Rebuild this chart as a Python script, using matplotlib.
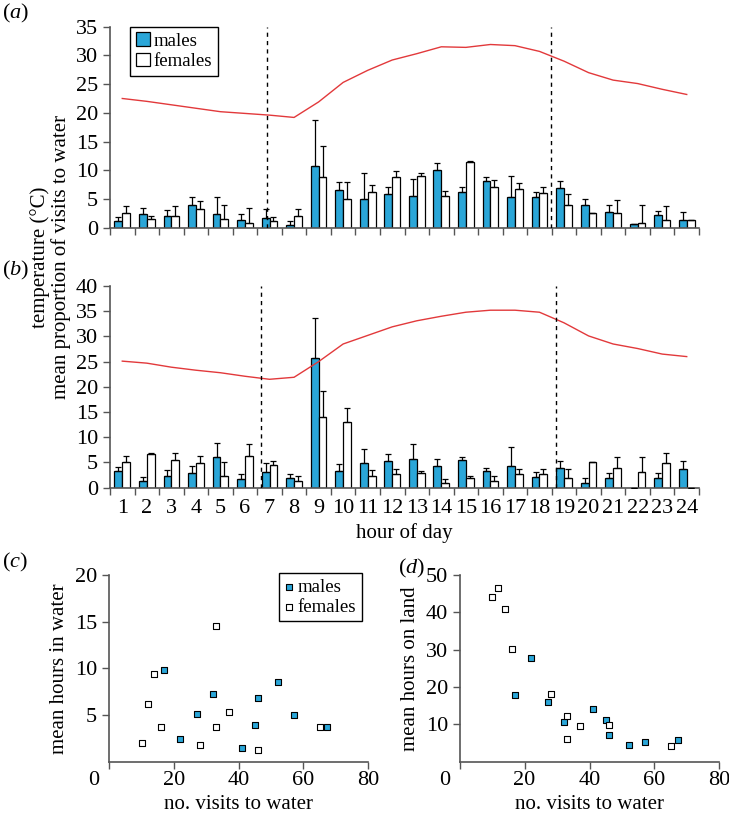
import matplotlib as mpl
mpl.use("Agg")
from matplotlib import pyplot as plt
import numpy as np

mpl.rcParams["font.family"] = ["Liberation Serif", "DejaVu Serif"]
mpl.rcParams["mathtext.fontset"] = "custom"
mpl.rcParams["mathtext.rm"] = "Liberation Serif"
mpl.rcParams["mathtext.it"] = "Liberation Serif:italic"
mpl.rcParams["font.size"] = 15

# hours of day
hours = np.arange(1, 25)

# (a) mean proportion of visits to water, with upper error ends
a_males = [1.1, 2.3, 2.0, 3.9, 2.3, 1.4, 1.7, 0.5, 10.8, 6.6, 5.0, 5.8,
           5.6, 10.1, 6.3, 8.1, 5.4, 5.3, 7.0, 4.0, 2.8, 0.6, 2.2, 1.3]
a_males_err = [1.8, 3.4, 3.0, 5.3, 5.3, 2.4, 3.25, 1.2, 18.8, 8.0, 9.6, 7.1,
               8.4, 11.2, 7.1, 8.8, 9.0, 6.3, 8.2, 5.0, 3.9, 0.6, 2.9, 2.8]
a_females = [2.5, 1.6, 2.1, 3.2, 1.6, 0.9, 1.2, 2.0, 8.9, 5.0, 6.2, 8.8,
             9.0, 5.6, 11.4, 7.1, 6.8, 6.1, 4.0, 2.5, 2.5, 0.8, 1.4, 1.3]
a_females_err = [3.8, 2.0, 3.7, 4.6, 3.9, 3.4, 1.9, 3.25, 14.2, 8.0, 7.4, 9.8,
                 9.5, 6.4, 11.7, 8.3, 7.7, 7.1, 5.8, 2.5, 4.8, 3.9, 3.7, 1.3]
a_temp = [22.5, 22.0, 21.4, 20.8, 20.2, 19.9, 19.6, 19.2, 21.9, 25.3, 27.4, 29.2,
          30.3, 31.5, 31.4, 31.9, 31.7, 30.7, 29.0, 27.0, 25.7, 25.1, 24.1, 23.2]
a_dash = [6.88, 18.46]

# (b)
b_males = [3.4, 1.4, 2.4, 3.0, 6.0, 1.65, 3.1, 2.0, 25.7, 3.3, 4.9, 5.3,
           5.7, 4.3, 5.4, 3.4, 4.4, 2.2, 4.0, 0.9, 1.85, 0.0, 2.0, 3.8]
b_males_err = [4.2, 2.2, 3.5, 4.4, 8.9, 2.7, 4.8, 2.7, 33.6, 4.7, 7.7, 6.7,
               8.7, 5.6, 6.1, 4.0, 8.0, 3.2, 5.2, 1.85, 3.0, 0.0, 2.9, 5.2]
b_females = [5.0, 6.7, 5.4, 4.9, 2.4, 6.3, 4.6, 1.3, 14.1, 13.0, 2.4, 2.8,
             3.0, 0.9, 2.0, 1.3, 2.8, 2.8, 1.85, 5.1, 4.0, 3.1, 4.8, 0.0]
b_females_err = [6.3, 6.9, 6.9, 6.3, 5.0, 8.7, 5.2, 2.4, 19.2, 15.8, 3.5, 3.8,
                 3.4, 1.8, 2.4, 2.4, 3.8, 3.8, 3.8, 5.1, 6.1, 6.1, 6.9, 0.0]
b_temp = [25.1, 24.7, 23.9, 23.3, 22.8, 22.1, 21.5, 21.9, 25.0, 28.5, 30.2, 31.9,
          33.1, 34.0, 34.8, 35.2, 35.2, 34.8, 32.7, 30.1, 28.5, 27.6, 26.5, 26.0]
b_dash = [6.67, 18.67]

# (c), (d) per individual
m_visits = [17.0, 21.9, 27.1, 32.0, 41.1, 45.1, 46.0, 52.1, 57.1, 67.2]
m_water = [9.8, 2.4, 5.1, 7.2, 1.5, 3.9, 6.8, 8.5, 5.0, 3.75]
m_land = [17.9, 27.7, 16.1, 10.5, 14.1, 11.1, 7.2, 4.5, 5.2, 5.8]
f_visits = [10.1, 11.9, 14.0, 16.0, 28.1, 33.1, 33.1, 37.1, 46.0, 65.2]
f_water = [2.0, 6.2, 9.4, 3.7, 1.8, 3.7, 14.5, 5.3, 1.3, 3.75]
f_land = [44.0, 46.5, 40.8, 30.3, 18.0, 6.0, 12.3, 9.5, 9.7, 4.1]

blue = "#2aa6d8"
red = "#e2393b"
spine_col = "#555555"

fig = plt.figure(figsize=(7.29, 8.16), dpi=100)
W, H = 729.0, 816.0


def px_axes(left, top, right, bottom):
    return fig.add_axes([left / W, 1 - bottom / H, (right - left) / W, (bottom - top) / H])


def style_spines(ax):
    for s in ["top", "right"]:
        ax.spines[s].set_visible(False)
    for s in ["left", "bottom"]:
        ax.spines[s].set_color(spine_col)
        ax.spines[s].set_linewidth(1.2)


def bar_panel(ax, males, males_err, females, females_err, temp, dash, ymax):
    x = hours
    ax.bar(x - 0.16, males, width=0.32, color=blue, edgecolor="black", linewidth=0.9,
           label="males", zorder=2)
    ax.bar(x + 0.16, females, width=0.32, color="white", edgecolor="black", linewidth=0.9,
           label="females", zorder=2)
    m = np.array(males)
    f = np.array(females)
    ax.errorbar(x - 0.16, m, yerr=[np.zeros(24), np.array(males_err) - m], fmt="none",
                ecolor="black", elinewidth=0.9, capsize=2, capthick=0.9, zorder=3)
    ax.errorbar(x + 0.16, f, yerr=[np.zeros(24), np.array(females_err) - f], fmt="none",
                ecolor="black", elinewidth=0.9, capsize=2, capthick=0.9, zorder=3)
    ax.plot(x, temp, color=red, linewidth=1.0, zorder=4)
    ax.vlines(dash, 0, ymax, colors="black", linestyles=(0, (3, 3)), linewidth=1.0, zorder=5)
    ax.set_xlim(0.5, 24.5)
    ax.set_ylim(0, ymax)
    ax.set_yticks(np.arange(0, ymax + 1, 5))
    ax.set_xticks(np.arange(0.5, 25, 1))
    ax.set_xticklabels([])
    ax.set_xticks(hours, minor=True)
    ax.tick_params(axis="x", which="minor", length=0)
    ax.tick_params(axis="both", which="major", length=5, width=1, color=spine_col,
                   direction="out", labelsize=16)
    style_spines(ax)


legend_kw = dict(loc="upper left", frameon=True, fancybox=False, edgecolor="black",
                 framealpha=1, borderaxespad=0, handletextpad=0.2, borderpad=0.3,
                 labelspacing=0.15, fontsize=13.5)

ax_a = px_axes(110, 26.7, 699, 227.7)
bar_panel(ax_a, a_males, a_males_err, a_females, a_females_err, a_temp, a_dash, 35)
leg = ax_a.legend(bbox_to_anchor=(0.034, 1.0), handlelength=0.75, handleheight=0.75,
                  **legend_kw)
leg.get_frame().set_linewidth(1.0)

ax_b = px_axes(110, 286, 699, 487.7)
bar_panel(ax_b, b_males, b_males_err, b_females, b_females_err, b_temp, b_dash, 40)
ax_b.set_xticklabels([str(h) for h in hours], minor=True)
ax_b.tick_params(axis="x", which="minor", labelsize=16, pad=8)
ax_b.set_xlabel("hour of day", fontsize=15, labelpad=4)

fig.text(40 / W, 1 - 257 / H, "temperature (°C)", rotation=90, ha="center", va="center",
         fontsize=15)
fig.text(61 / W, 1 - 257 / H, "mean proportion of visits to water", rotation=90,
         ha="center", va="center", fontsize=15)


def scatter_panel(ax, yvals_m, yvals_f, ymax, yticks):
    ax.scatter(m_visits, yvals_m, marker="s", s=20, c=blue, edgecolors="black",
               linewidths=0.8, label="males", zorder=3)
    ax.scatter(f_visits, yvals_f, marker="s", s=20, c="white", edgecolors="black",
               linewidths=0.8, label="females", zorder=3)
    ax.set_xlim(0, 80)
    ax.set_ylim(0, ymax)
    ax.set_xticks([0, 20, 40, 60, 80])
    ax.set_xticklabels(["", "20", "40", "60", "80"])
    ax.set_yticks(yticks)
    ax.tick_params(axis="both", length=5, width=1, color=spine_col, labelsize=16)
    ax.tick_params(axis="x", pad=2)
    # shared origin label, sits left of the spine in the tick-label row
    ax.annotate("0", xy=(0, 0), xycoords="axes fraction", xytext=(-7, -7),
                textcoords="offset points", ha="right", va="top", fontsize=16)
    ax.set_xlabel("no. visits to water", fontsize=15, labelpad=3)
    style_spines(ax)


ax_c = px_axes(109, 575, 368.3, 761.7)
scatter_panel(ax_c, m_water, f_water, 20, [5, 10, 15, 20])
ax_c.set_ylabel("mean hours in water", fontsize=15)
leg = ax_c.legend(bbox_to_anchor=(0.656, 1.01), handlelength=0.5, **legend_kw)
leg.get_frame().set_linewidth(1.0)

ax_d = px_axes(459.7, 575, 719.3, 761.7)
scatter_panel(ax_d, m_land, f_land, 50, [10, 20, 30, 40, 50])
ax_d.set_ylabel("mean hours on land", fontsize=15)

fig.text(2 / W, 1 - 13 / H, r"($\it{a}$)", ha="left", va="center", fontsize=16)
fig.text(2 / W, 1 - 270 / H, r"($\it{b}$)", ha="left", va="center", fontsize=16)
fig.text(2 / W, 1 - 562 / H, r"($\it{c}$)", ha="left", va="center", fontsize=16)
fig.text(398 / W, 1 - 568 / H, r"($\it{d}$)", ha="left", va="center", fontsize=16)

fig.savefig("out.png", dpi=100)
